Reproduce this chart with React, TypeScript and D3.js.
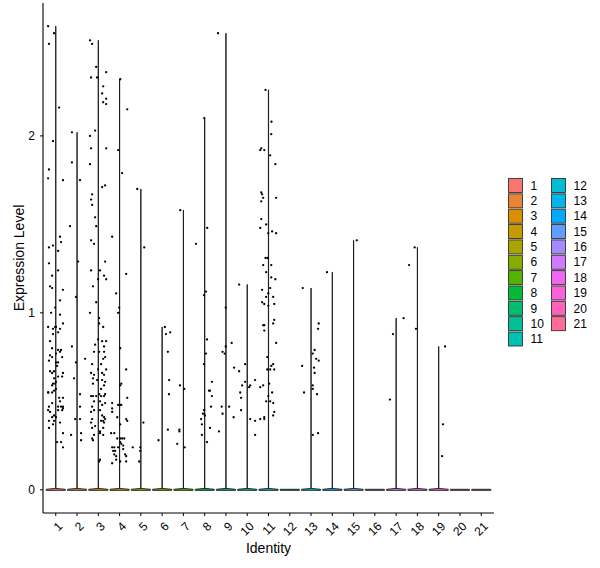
import * as d3 from 'd3';

const W = 600;
const H = 568;
const PANEL = { left: 43, right: 494, top: 3, bottom: 513 };

const identities = ['1', '2', '3', '4', '5', '6', '7', '8', '9', '10', '11', '12', '13', '14', '15', '16', '17', '18', '19', '20', '21'];
const yTicks = [0, 1, 2];

// non-zero cells per identity: [expression, jitter (in category units)]
const g1: [number, number][] = [
  [2.62, -0.36], [2.58, -0.08], [2.52, -0.32], [2.16, 0.16], [1.97, -0.13], [1.81, -0.32], [1.76, -0.36], [1.75, 0.34],
  [1.43, 0.2], [1.4, 0.25], [1.38, -0.13], [1.37, -0.32], [1.35, 0.11], [1.28, -0.32], [1.24, 0.11], [1.21, -0.17],
  [1.15, -0.27], [1.14, -0.17], [1.13, 0.34], [1.07, 0.2], [1.03, -0.03], [1.0, -0.22], [0.99, 0.2], [0.92, -0.36],
  [0.92, -0.03], [0.92, 0.01], [0.91, -0.13], [0.94, 0.34], [0.91, 0.2], [0.88, -0.13], [0.89, 0.11],
  [0.84, -0.27], [0.8, -0.17], [0.79, 0.11], [0.78, 0.2], [0.79, 0.25], [0.77, 0.01], [0.76, -0.27], [0.75, -0.17],
  [0.75, 0.3], [0.73, -0.32], [0.72, 0.01], [0.72, 0.11], [0.7, 0.06], [0.67, -0.27], [0.66, -0.17], [0.67, -0.08],
  [0.66, 0.34], [0.64, 0.3], [0.64, 0.11], [0.63, -0.08], [0.61, 0.01], [0.6, -0.13], [0.59, -0.17], [0.6, -0.03],
  [0.55, -0.36], [0.55, -0.17], [0.56, -0.08], [0.57, 0.01], [0.55, -0.35],
  [0.52, 0.16], [0.5, 0.2], [0.52, 0.34], [0.49, -0.17], [0.47, -0.32], [0.47, 0.11], [0.47, 0.25], [0.47, 0.34],
  [0.45, -0.36], [0.44, -0.27], [0.45, 0.11], [0.45, 0.3], [0.46, 0.34], [0.42, -0.08], [0.41, -0.17], [0.41, 0.01],
  [0.39, -0.32], [0.39, -0.08], [0.37, -0.13], [0.38, 0.2], [0.35, -0.32], [0.32, 0.34], [0.27, 0.06], [0.27, 0.25], [0.24, 0.34],
];
const g2: [number, number][] = [
  [2.02, -0.24], [1.85, -0.24], [1.75, 0.14], [1.49, -0.33], [1.29, 0.05], [1.09, -0.05], [0.81, -0.24], [0.72, -0.05],
  [0.74, 0.38], [0.63, -0.14], [0.54, 0.14], [0.47, 0.14], [0.4, -0.09], [0.4, 0.14], [0.31, -0.28], [0.32, 0.19], [0.28, 0.19],
];
const g3: [number, number][] = [
  [2.54, -0.39], [2.52, -0.29], [2.39, -0.1], [2.36, 0.37], [2.33, -0.34], [2.33, -0.06], [2.28, 0.23], [2.24, 0.18],
  [2.21, 0.37], [2.19, 0.23], [2.18, 0.37], [2.03, -0.15], [2.0, -0.39], [1.93, -0.34], [1.93, 0.37], [1.84, -0.39],
  [1.71, 0.18], [1.72, 0.32], [1.67, -0.29], [1.64, -0.34], [1.61, -0.29], [1.54, -0.15], [1.49, -0.1], [1.41, -0.34],
  [1.39, -0.2], [1.29, 0.32], [1.24, -0.34], [1.24, 0.08], [1.21, 0.27], [1.19, 0.37], [1.19, -0.01], [1.15, -0.25],
  [1.06, -0.1], [1.0, -0.39], [0.97, 0.04], [0.94, 0.04], [0.92, 0.23],
  [0.85, -0.01], [0.82, -0.15], [0.84, 0.18], [0.84, 0.37], [0.81, 0.27], [0.78, -0.2], [0.78, 0.04], [0.78, 0.27],
  [0.75, 0.32], [0.74, 0.23], [0.71, -0.29], [0.71, 0.13], [0.68, -0.01], [0.68, 0.37], [0.66, -0.34], [0.65, -0.2],
  [0.66, 0.18], [0.65, 0.27], [0.63, -0.25], [0.62, -0.06], [0.62, 0.18], [0.6, -0.25], [0.61, 0.32], [0.59, 0.27],
  [0.57, 0.13], [0.54, 0.04], [0.54, 0.32], [0.53, 0.13], [0.53, 0.27], [0.53, -0.34], [0.53, -0.25], [0.53, -0.1],
  [0.5, 0.08], [0.5, -0.2], [0.49, 0.32], [0.47, -0.29], [0.48, 0.18], [0.45, 0.08], [0.44, -0.34], [0.45, -0.2],
  [0.42, 0.18], [0.41, 0.27], [0.4, -0.29], [0.4, 0.32], [0.39, 0.13], [0.39, 0.23], [0.38, -0.34], [0.38, 0.27],
  [0.36, -0.15], [0.35, -0.29], [0.33, 0.08], [0.35, 0.23], [0.31, -0.2], [0.32, 0.08], [0.31, 0.23], [0.29, -0.29],
  [0.28, -0.25], [0.17, 0.08], [0.16, 0.04],
];
const g4: [number, number][] = [
  [2.32, 0.03], [2.15, 0.36], [1.92, -0.07], [1.79, 0.12], [1.43, -0.35], [1.22, 0.31], [1.11, -0.16], [1.03, -0.02],
  [1.0, -0.07], [0.8, 0.03], [0.68, 0.31], [0.6, 0.08], [0.59, 0.03], [0.52, 0.36], [0.49, -0.35], [0.48, -0.07],
  [0.48, 0.03], [0.48, 0.08], [0.46, -0.35], [0.44, -0.35], [0.41, -0.11], [0.4, 0.31], [0.39, 0.36], [0.37, 0.03],
  [0.32, -0.4], [0.32, -0.25], [0.29, -0.11], [0.29, 0.03], [0.29, 0.12], [0.29, 0.22], [0.27, 0.03], [0.26, 0.08],
  [0.24, -0.35], [0.24, -0.25], [0.24, -0.07], [0.25, 0.17], [0.22, -0.3], [0.22, -0.21], [0.23, 0.17], [0.2, -0.25],
  [0.19, -0.16], [0.2, 0.26], [0.19, 0.31], [0.17, -0.16], [0.15, -0.35], [0.16, 0.03], [0.16, 0.31],
];
const g5: [number, number][] = [[1.7, -0.17], [1.37, 0.16], [0.38, 0.12], [0.24, -0.38], [0.24, -0.03], [0.22, -0.03], [0.16, -0.08]];
const g6: [number, number][] = [[0.92, 0.13], [0.88, 0.18], [0.89, 0.38], [0.78, 0.27], [0.62, 0.33], [0.54, 0.32], [0.28, -0.17], [0.34, 0.27]];
const g7: [number, number][] = [[1.58, -0.15], [0.59, -0.16], [0.57, 0.04], [0.34, -0.19], [0.33, -0.19], [0.26, -0.29], [0.24, 0.06]];
const g8: [number, number][] = [
  [2.1, -0.02], [1.48, 0.12], [1.39, -0.41], [1.1, -0.03], [1.12, 0.06], [0.85, 0.11], [0.77, 0.06], [0.71, -0.03],
  [0.56, 0.25], [0.61, 0.34], [0.56, 0.2], [0.53, 0.34], [0.47, 0.3], [0.45, -0.03], [0.43, -0.08], [0.4, -0.17],
  [0.42, 0.01], [0.37, -0.13], [0.35, 0.25], [0.31, -0.13], [0.27, 0.11],
];
const g9: [number, number][] = [
  [2.58, -0.37], [1.03, -0.01], [0.83, 0.27], [0.81, -0.01], [0.78, -0.16], [0.77, -0.06], [0.47, -0.2], [0.43, -0.16],
  [0.33, -0.33], [0.47, 0.15], [0.41, 0.36], [0.69, 0.38],
];
const g10: [number, number][] = [
  [1.16, -0.38], [0.71, -0.1], [0.67, -0.38], [0.61, -0.1], [0.59, -0.24], [0.58, 0.09], [0.59, 0.14], [0.62, 0.37],
  [0.55, -0.33], [0.52, -0.29], [0.45, -0.29], [0.4, 0.14], [0.39, 0.37], [0.31, 0.37],
];
const g11: [number, number][] = [
  [2.26, -0.14], [2.08, 0.14], [2.01, 0.13], [1.93, -0.34], [1.92, -0.39], [1.92, -0.2], [1.89, 0.08], [1.84, 0.32],
  [1.68, -0.34], [1.67, -0.3], [1.65, -0.25], [1.63, -0.34], [1.65, 0.36], [1.53, -0.34], [1.5, -0.11], [1.48, -0.39],
  [1.46, 0.17], [1.45, -0.01], [1.45, 0.36], [1.31, -0.14], [1.31, -0.05],
  [1.27, -0.25], [1.27, 0.13], [1.23, -0.11], [1.2, 0.13], [1.19, 0.32], [1.14, 0.08], [1.13, -0.3], [1.11, -0.01],
  [1.09, -0.11], [1.09, 0.22], [1.06, -0.3], [1.05, -0.2], [1.04, -0.01], [1.05, 0.27], [0.96, 0.27], [0.94, 0.22],
  [0.93, -0.25], [0.93, -0.2], [0.9, -0.2], [0.83, 0.36], [0.75, -0.06], [0.71, 0.22], [0.7, 0.13], [0.68, -0.06],
  [0.68, 0.08], [0.68, 0.27], [0.6, 0.03], [0.59, -0.25], [0.58, -0.39], [0.55, 0.17], [0.53, -0.01], [0.5, -0.11],
  [0.5, 0.08], [0.49, 0.22], [0.44, 0.27], [0.42, 0.22], [0.4, -0.39], [0.4, -0.2], [0.41, -0.2],
];
const g12: [number, number][] = [];
const g13: [number, number][] = [
  [1.14, -0.39], [0.7, -0.42], [0.55, -0.33], [0.94, 0.36], [0.91, 0.33], [0.77, 0.08], [0.79, 0.17], [0.74, 0.24],
  [0.73, 0.36], [0.69, 0.14], [0.66, 0.17], [0.59, 0.08], [0.57, 0.08], [0.54, 0.28], [0.31, 0.08], [0.32, 0.33],
];
const g14: [number, number][] = [[1.23, -0.25]];
const g15: [number, number][] = [[1.41, 0.15]];
const g16: [number, number][] = [];
const g17: [number, number][] = [[0.97, 0.35], [0.88, -0.15], [0.51, -0.29]];
const g18: [number, number][] = [[1.37, -0.13], [1.27, -0.39], [0.91, -0.07]];
const g19: [number, number][] = [[0.81, 0.3], [0.37, 0.2], [0.19, 0.16]];
const g20: [number, number][] = [];
const g21: [number, number][] = [];

const cells = [g1, g2, g3, g4, g5, g6, g7, g8, g9, g10, g11, g12, g13, g14, g15, g16, g17, g18, g19, g20, g21];

// ggplot2 hue_pal: polar LUV -> sRGB
function hcl(h: number, c: number, l: number) {
  const hr = (h * Math.PI) / 180;
  const U = c * Math.cos(hr);
  const V = c * Math.sin(hr);
  const Xn = 95.047, Yn = 100, Zn = 108.883;
  const un = (4 * Xn) / (Xn + 15 * Yn + 3 * Zn);
  const vn = (9 * Yn) / (Xn + 15 * Yn + 3 * Zn);
  const Y = l > 8 ? Yn * Math.pow((l + 16) / 116, 3) : (Yn * l) / 903.3;
  const u = U / (13 * l) + un;
  const v = V / (13 * l) + vn;
  const X = (9 * Y * u) / (4 * v);
  const Z = (Y * (12 - 3 * u - 20 * v)) / (4 * v);
  const x = X / 100, y = Y / 100, z = Z / 100;
  const lin = [
    3.240479 * x - 1.53715 * y - 0.498535 * z,
    -0.969256 * x + 1.875992 * y + 0.041556 * z,
    0.055648 * x - 0.204043 * y + 1.057311 * z,
  ];
  const [r, g, b] = lin.map((t) => {
    const s = t <= 0.0031308 ? 12.92 * t : 1.055 * Math.pow(t, 1 / 2.4) - 0.055;
    return Math.round(Math.max(0, Math.min(1, s)) * 255);
  });
  return d3.rgb(r, g, b).formatHex();
}
const colors = identities.map((_, i) => hcl(15 + (360 / identities.length) * i, 100, 65));

const App = () => {
  const x = d3.scalePoint<string>().domain(identities).range([PANEL.left, PANEL.right]).padding(0.6);
  const step = x.step();
  const ymax = d3.max(cells.flat(), (d) => d[0]) ?? 1;
  const y = d3.scaleLinear().domain([-0.05 * ymax, 1.05 * ymax]).range([PANEL.bottom, PANEL.top]);
  const hw = step * 0.45;

  const area = d3.area<[number, number]>()
    .y((d) => y(d[0]))
    .x0((d) => -d[1])
    .x1((d) => d[1]);

  const font = 'Liberation Sans, Arial, sans-serif';

  return (
    <svg width={W} height={H} style={{ position: 'absolute', left: 0, top: 0, background: '#fff' }} fontFamily={font}>
      {/* violins: almost all mass sits at zero, so each is a flat slab plus a hairline up to the max */}
      {identities.map((id, i) => {
        const vals = cells[i];
        const mx = d3.max(vals, (d) => d[0]) ?? 0;
        const profile: [number, number][] = mx > 0
          ? [[-0.003, hw], [0.003, hw], [0.008, 0.1], [mx, 0.1]]
          : [[-0.003, hw], [0.003, hw]];
        return (
          <path key={id} transform={`translate(${x(id)},0)`} d={area(profile) ?? ''}
            fill={colors[i]} stroke="#1a1a1a" strokeWidth={0.9} />
        );
      })}
      {/* jittered points */}
      {identities.map((id, i) =>
        cells[i].map((d, k) => (
          <circle key={id + '-' + k} cx={(x(id) ?? 0) + d[1] * step} cy={y(d[0])} r={1.15} fill="#000" />
        ))
      )}
      {/* axes */}
      <line x1={PANEL.left} x2={PANEL.left} y1={PANEL.top} y2={PANEL.bottom} stroke="#000" strokeWidth={1.1} />
      <line x1={PANEL.left} x2={PANEL.right} y1={PANEL.bottom} y2={PANEL.bottom} stroke="#000" strokeWidth={1.1} />
      {yTicks.map((t) => (
        <g key={t}>
          <line x1={PANEL.left - 3} x2={PANEL.left} y1={y(t)} y2={y(t)} stroke="#000" />
          <text x={35} y={y(t)} dy="0.35em" textAnchor="end" fontSize={12} fill="#000">{t}</text>
        </g>
      ))}
      {identities.map((id) => (
        <g key={id}>
          <line x1={x(id)} x2={x(id)} y1={PANEL.bottom} y2={PANEL.bottom + 3} stroke="#000" />
          <text transform={`translate(${(x(id) ?? 0) + 7.5},527) rotate(-45)`} textAnchor="end" fontSize={12} fill="#000">{id}</text>
        </g>
      ))}
      <text transform={`translate(24,${(PANEL.top + PANEL.bottom) / 2}) rotate(-90)`} textAnchor="middle" fontSize={14} fill="#000">Expression Level</text>
      <text x={(PANEL.left + PANEL.right) / 2} y={553} textAnchor="middle" fontSize={14} fill="#000">Identity</text>
      {/* legend */}
      {identities.map((id, i) => {
        const col = i < 11 ? 0 : 1;
        const row = i < 11 ? i : i - 11;
        const bx = col === 0 ? 508.5 : 551.5;
        const by = 178.5 + row * 15.35;
        return (
          <g key={id}>
            <rect x={bx} y={by} width={14} height={14} fill={colors[i]} stroke="#333" strokeWidth={0.9} />
            <text x={bx + 22} y={by + 7} dy="0.35em" fontSize={12} fill="#000">{id}</text>
          </g>
        );
      })}
    </svg>
  );
};

export default App;
